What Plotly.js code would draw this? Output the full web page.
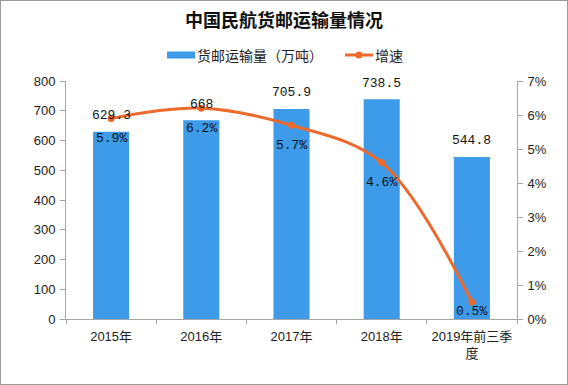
<!DOCTYPE html>
<html><head><meta charset="utf-8">
<script src="https://cdn.plot.ly/plotly-3.0.1.min.js"></script>
<style>body{margin:0;background:#fff}#c{width:568px;height:385px}#b{position:absolute;left:0;top:0;width:566px;height:383px;border:1px solid #9a9a9a;pointer-events:none}</style>
</head><body><div id="c"></div><div id="b"></div>
<script>
const categories = ['2015年','2016年','2017年','2018年','2019年前三季<br>度'];
const volume = [629.3, 668, 705.9, 738.5, 544.8];
const growth = [5.9, 6.2, 5.7, 4.6, 0.5];
const volumeLabels = ['629.3','668','705.9','738.5','544.8'];
const growthLabels = ['5.9%','6.2%','5.7%','4.6%','0.5%'];
const seriesNames = ['货邮运输量（万吨）', '增速'];

const font = '"Liberation Sans", "Noto Sans CJK SC", sans-serif';
const cjk = '"Noto Sans CJK SC", "Liberation Sans", sans-serif';
const mono = '"Liberation Mono", "DejaVu Sans Mono", monospace';
const barColor = '#3d9be9', lineColor = '#ee6a2c';
const L = 66, R = 51, T = 81, B = 66, W = 568, H = 385;
const plotW = W - L - R, plotH = H - T - B, y2max = 7;
const px = v => (v - L) / plotW;
const py = v => (H - B - v) / plotH;

const data = [
  {type:'bar', name:seriesNames[0], x:categories, y:volume,
   marker:{color:barColor}, hoverinfo:'none', showlegend:false},
  {type:'scatter', mode:'lines+markers', name:seriesNames[1], x:categories, y:growth, yaxis:'y2',
   line:{color:lineColor, width:3, shape:'spline', smoothing:1}, marker:{color:lineColor, size:7},
   hoverinfo:'none', showlegend:false}
];
const annotations = [];
categories.forEach((c, i) => {
  annotations.push({x:c, y:volume[i], xref:'x', yref:'y', text:volumeLabels[i], showarrow:false,
    yshift:16, yanchor:'middle', font:{family:mono, size:13, color:'#111'}});
  const room = growth[i] / y2max * plotH - 8;
  annotations.push({x:c, y:growth[i], xref:'x', yref:'y2', text:growthLabels[i], showarrow:false,
    yshift:-Math.min(20, room), yanchor:'middle', font:{family:mono, size:13, color:'#111'}});
});
// legend (drawn manually to match wide swatches)
annotations.push({xref:'paper', yref:'paper', x:px(195), y:py(55), xanchor:'left', yanchor:'middle', showarrow:false,
  text:seriesNames[0], font:{family:cjk, size:14, color:'#222'}});
annotations.push({xref:'paper', yref:'paper', x:px(373), y:py(55), xanchor:'left', yanchor:'middle', showarrow:false,
  text:seriesNames[1], font:{family:cjk, size:14, color:'#222'}});
const shapes = [
  {type:'rect', xref:'paper', yref:'paper', x0:px(167), x1:px(195), y0:py(58.5), y1:py(51.5), fillcolor:barColor, line:{width:0}},
  {type:'line', xref:'paper', yref:'paper', x0:px(345), x1:px(373), y0:py(55), y1:py(55), line:{color:lineColor, width:3}},
  {type:'circle', xref:'paper', yref:'paper', x0:px(355.5), x1:px(362.5), y0:py(58.5), y1:py(51.5), fillcolor:lineColor, line:{width:0}}
];
const layout = {
  width:W, height:H, margin:{l:L, r:R, t:T, b:B},
  paper_bgcolor:'#fff', plot_bgcolor:'#fff',
  font:{family:font, size:13, color:'#222'},
  title:{text:'<b>中国民航货邮运输量情况</b>', x:0.5, xanchor:'center', y:1 - 21/H, yanchor:'middle', font:{size:18, color:'#111', family:cjk}},
  showlegend:false,
  bargap:0.6,
  annotations: annotations,
  shapes: shapes,
  xaxis:{type:'category', showline:true, linecolor:'#a6a6a6', ticks:'outside', tickson:'boundaries', ticklen:4, tickcolor:'#a6a6a6', tickfont:{size:13}, ticklabelstandoff:5, showgrid:false},
  yaxis:{range:[0,800], dtick:100, showline:true, linecolor:'#a6a6a6', ticks:'outside', ticklen:5, tickcolor:'#a6a6a6', showgrid:false, zeroline:false, tickfont:{size:13}, ticklabelstandoff:2},
  yaxis2:{range:[0,7], dtick:1, ticksuffix:'%', overlaying:'y', side:'right', showline:true, linecolor:'#a6a6a6', ticks:'outside', ticklen:5, tickcolor:'#a6a6a6', showgrid:false, zeroline:false, tickfont:{size:13}, ticklabelstandoff:2}
};
Plotly.newPlot('c', data, layout, {displayModeBar:false, staticPlot:true});
</script></body></html>
